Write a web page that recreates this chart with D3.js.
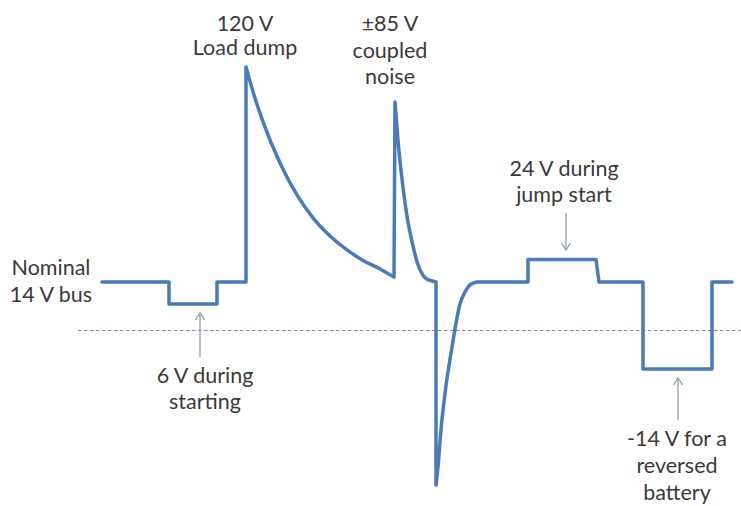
<!DOCTYPE html>
<html>
<head>
<meta charset="utf-8">
<script src="https://cdn.jsdelivr.net/npm/d3@7"></script>
<style>
  html, body { margin: 0; padding: 0; background: #ffffff; }
  svg { display: block; }
  text { font-family: Lato, "Open Sans", sans-serif; font-size: 21.5px; fill: #3a3a3a; }
</style>
</head>
<body>
<svg id="chart" width="741" height="506"></svg>
<script>
// Automotive supply-bus disturbances: [time (arb. units), volts]
const startSteps    = [[0, 14], [33.5, 14], [33.5, 6], [57.5, 6], [57.5, 14], [72, 14], [72, 120]];
const loadDumpDecay = [[72, 120], [76, 92], [80.5, 77.3], [89, 61.4], [97.5, 49], [105.5, 40.1],
                       [114, 33.1], [122.5, 27.7], [130.5, 23.6], [139, 19.8], [146, 16.2]];
const noiseRise     = [[146, 16.2], [146.5, 85]];
const noiseDecay    = [[146.5, 85], [148, 70], [150.5, 52], [153, 38.5], [155, 31],
                       [157.5, 23], [160.5, 17], [163, 15]];
const noiseDrop     = [[163, 15], [167, 14], [167, -85]];
const negRecovery   = [[167, -85], [168, -74], [169.5, -51], [171.5, -29], [175, -6],
                       [179, 6], [182, 11], [184, 13], [187.5, 14]];
const tailSteps     = [[187.5, 14], [213, 14], [213, 24], [247, 24], [248.5, 14],
                       [270.5, 14], [270.5, -14], [305, -14], [305, 14], [315, 14]];

// Voltage levels called out on the drawing (schematic, piecewise scale)
const levelVolts = [-85, -14, 0, 6, 14, 24, 85, 120];

// Callout texts
const labelLoadDump = ["120 V", "Load dump"];
const labelNoise    = ["\u00b185 V", "coupled", "noise"];
const labelNominal  = ["Nominal", "14 V bus"];
const labelCrank    = ["6 V during", "starting"];
const labelJump     = ["24 V during", "jump start"];
const labelReverse  = ["-14 V for a", "reversed", "battery"];

const svg = d3.select("#chart");

const x = d3.scaleLinear().domain([0, 315]).range([102, 732]);
const y = d3.scaleLinear()
  .domain(levelVolts)
  .range([485, 369, 330.5, 304, 282, 259.5, 102, 67]);

// zero-volt reference
svg.append("line")
  .attr("x1", 78).attr("x2", 741)
  .attr("y1", y(0)).attr("y2", y(0))
  .attr("stroke", "#6f93c4")
  .attr("stroke-width", 1.2)
  .attr("stroke-dasharray", "3.5,2.5");

const straight = d3.line().x(d => x(d[0])).y(d => y(d[1])).curve(d3.curveLinear);
const smooth   = d3.line().x(d => x(d[0])).y(d => y(d[1])).curve(d3.curveMonotoneX);

const pieces = [
  [startSteps, straight], [loadDumpDecay, smooth], [noiseRise, straight],
  [noiseDecay, smooth], [noiseDrop, straight], [negRecovery, smooth], [tailSteps, straight]
];
svg.append("path")
  .attr("d", pieces.map(([pts, gen]) => gen(pts)).join(""))
  .attr("fill", "none")
  .attr("stroke", "#4a7ab7")
  .attr("stroke-width", 3.5)
  .attr("stroke-linejoin", "round")
  .attr("stroke-linecap", "round");

// multi-line centered text
function label(lines, cx, baseline, step, anchor = "middle") {
  const t = svg.append("text").attr("text-anchor", anchor);
  lines.forEach((s, i) => {
    t.append("tspan").attr("x", cx).attr("y", baseline + i * step).text(s);
  });
}

// thin pointer arrow with open head at (tx, ty)
function pointer(tx, ty, len, dir) {
  const g = svg.append("g").attr("stroke", "#8d9db0").attr("stroke-width", 1.3).attr("fill", "none");
  g.append("line").attr("x1", tx).attr("x2", tx).attr("y1", ty).attr("y2", ty + dir * len);
  g.append("path").attr("d", `M${tx - 4.5},${ty + dir * 7} L${tx},${ty} L${tx + 4.5},${ty + dir * 7}`);
}

label(labelLoadDump, x(72) - 1, 31, 24);
label(labelNoise, x(146.5) - 5, 31, 26.5);
label(labelNominal, 51, 275, 27);

pointer(x(49), y(6) + 9, 44, 1);
label(labelCrank, x(51.5), 383, 26);

pointer(x(232), y(24) - 9.5, 37, -1);
label(labelJump, x(231), 176, 26);

pointer(x(288), y(-14) + 9, 42, 1);
label(labelReverse, x(287.5), 446, 27);
</script>
</body>
</html>
